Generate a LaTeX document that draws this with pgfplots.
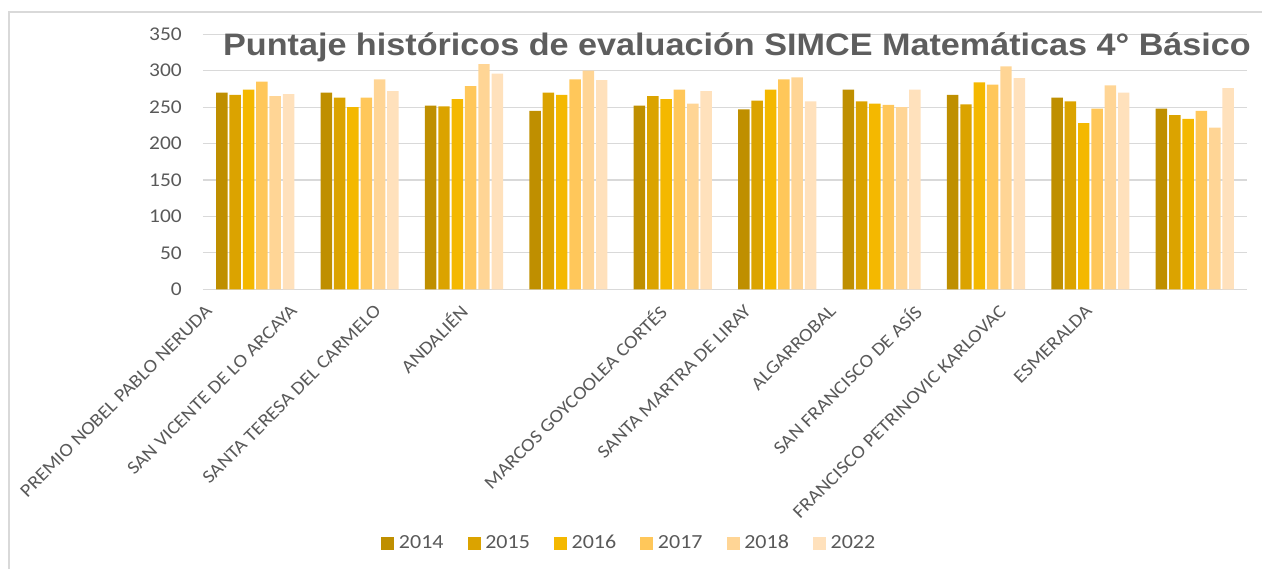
\documentclass[border=0pt]{standalone}
\usepackage{fontspec}
\setmainfont[FakeStretch=1.1]{Carlito}
\newfontfamily\titlefont[FakeStretch=1.1]{Liberation Sans}
\usepackage{pgfplots}
\pgfplotsset{compat=1.18}
\definecolor{cA}{HTML}{BF8F00}
\definecolor{cB}{HTML}{DBA300}
\definecolor{cC}{HTML}{F4B800}
\definecolor{cD}{HTML}{FFC75A}
\definecolor{cE}{HTML}{FFD595}
\definecolor{cF}{HTML}{FFE1BC}
\definecolor{gridc}{HTML}{D9D9D9}
\definecolor{txt}{HTML}{595959}
\definecolor{titlegray}{HTML}{5E5E5E}
\begin{document}
\begin{tikzpicture}
\path[use as bounding box] (-152.25pt,-209.78pt) rectangle (794.25pt,216.98pt);
\draw[color=gridc, line width=1.1pt] (-145.5pt,-209.78pt) -- (-145.5pt,208pt) -- (794.25pt,208pt);
\begin{axis}[
  at={(0,0)}, anchor=south west,
  scale only axis, width=783pt, height=191.25pt,
  xmin=0.5, xmax=10.5, ymin=0, ymax=350,
  ybar=1.4pt, bar width=8.6pt,
  axis line style={draw=none},
  major tick length=0pt,
  ytick={0,50,...,350},
  ymajorgrids, grid style={color=gridc, line width=0.8pt},
  yticklabel style={inner sep=0pt, anchor=east, xshift=-15.75pt, font=\fontsize{14.6pt}{16pt}\selectfont, text=txt},
  /pgf/number format/assume math mode=true,
  xtick={0.557,1.371,2.176,3.000,4.906,5.720,6.534,7.348,8.163,8.986},
  xticklabels={PREMIO NOBEL PABLO NERUDA,SAN VICENTE DE LO ARCAYA,SANTA TERESA DEL CARMELO,ANDALIÉN,MARCOS GOYCOOLEA CORTÉS,SANTA MARTRA DE LIRAY,ALGARROBAL,SAN FRANCISCO DE ASÍS,FRANCISCO PETRINOVIC KARLOVAC,ESMERALDA},
  xticklabel style={yshift=-14pt, rotate=45, anchor=east, inner sep=0pt, font=\fontsize{13.9pt}{16pt}\selectfont, text=txt},
  legend columns=6,
  legend image code/.code={\fill[#1] (0pt,-4.9pt) rectangle (9.8pt,4.9pt);},
  legend style={draw=none, fill=none, at={(axis description cs:0.4086,-0.995)}, anchor=center,
    font=\fontsize{15pt}{17pt}\selectfont, text=txt,
    /tikz/every odd column/.append style={column sep=1.5pt},
    /tikz/every even column/.append style={column sep=16pt}},
]
\addplot[fill=cA, draw=none] coordinates {(1,270) (2,270) (3,252) (4,245) (5,252) (6,247) (7,274) (8,267) (9,263) (10,248)};
\addplot[fill=cB, draw=none] coordinates {(1,267) (2,263) (3,251) (4,270) (5,265) (6,259) (7,258) (8,254) (9,258) (10,239)};
\addplot[fill=cC, draw=none] coordinates {(1,274) (2,250) (3,261) (4,267) (5,261) (6,274) (7,255) (8,284) (9,228) (10,234)};
\addplot[fill=cD, draw=none] coordinates {(1,285) (2,263) (3,279) (4,288) (5,274) (6,288) (7,253) (8,281) (9,248) (10,245)};
\addplot[fill=cE, draw=none] coordinates {(1,265) (2,288) (3,309) (4,300) (5,255) (6,291) (7,250) (8,306) (9,280) (10,222)};
\addplot[fill=cF, draw=none] coordinates {(1,268) (2,272) (3,296) (4,287) (5,272) (6,258) (7,274) (8,290) (9,270) (10,276)};
\legend{2014,2015,2016,2017,2018,2022}
\end{axis}
\node[anchor=base, inner sep=0pt, font=\titlefont\bfseries\fontsize{23.3pt}{28pt}\selectfont, text=titlegray] at (400.5pt,175.7pt) {Puntaje históricos de evaluación SIMCE Matemáticas 4° Básico};
\end{tikzpicture}
\end{document}
